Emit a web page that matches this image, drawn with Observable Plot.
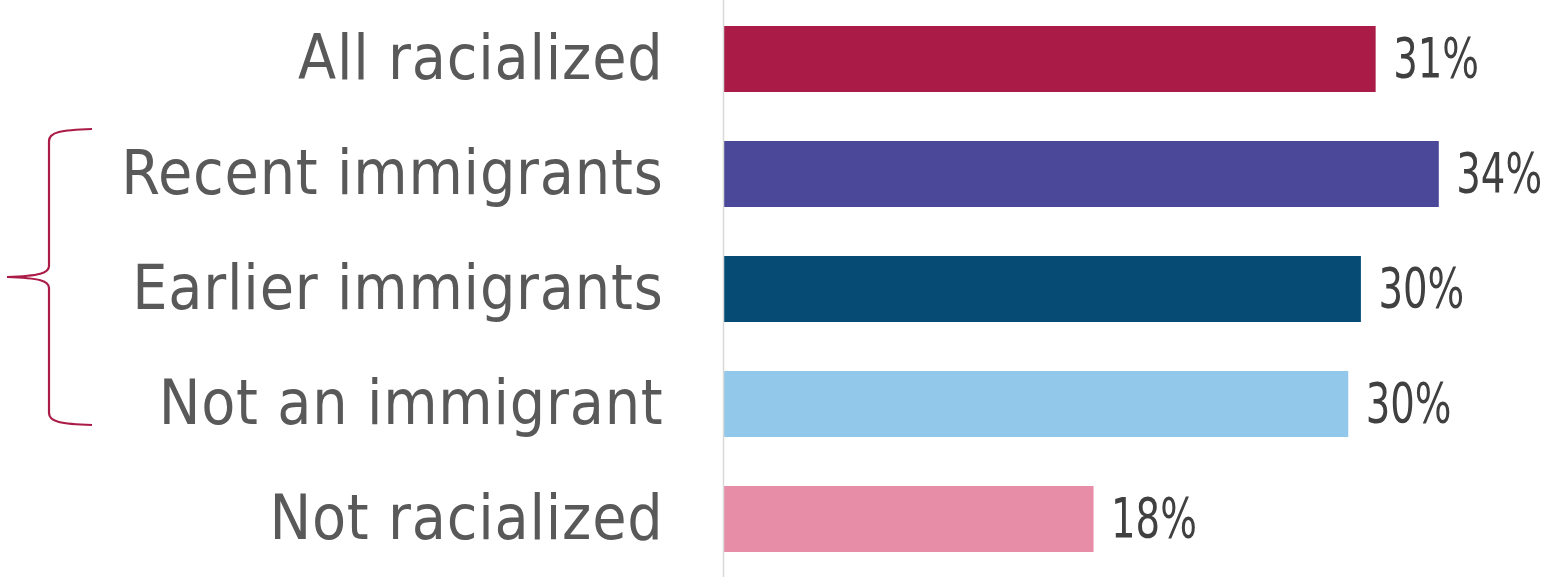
<!DOCTYPE html>
<html>
<head>
<meta charset="utf-8">
<script src="https://cdn.jsdelivr.net/npm/d3@7"></script>
<script src="https://cdn.jsdelivr.net/npm/@observablehq/plot@0.6"></script>
<style>
  html, body { margin: 0; padding: 0; background: #fff; }
  #chart svg { display: block; }
</style>
</head>
<body>
<div id="chart"></div>
<script>
const categories = ["All racialized", "Recent immigrants", "Earlier immigrants", "Not an immigrant", "Not racialized"];
const values = [31.0, 34.0, 30.3, 29.7, 17.6];
const colors = ["#AA1C47", "#4B4799", "#054B74", "#92C8E9", "#E78DA8"];
const bracketed = ["Recent immigrants", "Not an immigrant"];

const data = categories.map((c, i) => ({category: c, value: values[i]}));
const fontFamily = "DejaVu Sans Condensed, Liberation Sans Narrow, sans-serif";

const plot = Plot.plot({
  width: 1550,
  height: 577,
  marginLeft: 723,
  marginRight: 27,
  marginTop: 0,
  marginBottom: 0,
  x: {domain: [0, 38], axis: null},
  y: {domain: categories, paddingInner: 0.43, paddingOuter: 0.213, label: null},
  color: {domain: categories, range: colors},
  style: {background: "#fff"},
  marks: [
    Plot.barX(data, {x: "value", y: "category", fill: "category"}),
    Plot.ruleX([0], {stroke: "#d9d9d9", strokeWidth: 1.5}),
    Plot.text(data, {
      x: "value", y: "category",
      text: d => `${Math.round(d.value)}%`,
      dx: 17, textAnchor: "start",
      fill: "#404040", fontSize: 55,
      fontFamily,
      className: "value-label"
    }),
    Plot.axisY({
      tickSize: 0, tickPadding: 60, label: null,
      fontSize: 62, fill: "#595959",
      fontFamily
    })
  ]
});

d3.select(plot).selectAll("[aria-label='y-axis tick label'] text").style("letter-spacing", "0.8px");

// brace grouping the immigrant sub-categories
const ys = plot.scale("y");
const bw = ys.bandwidth;
const yTop = ys.apply(bracketed[0]) - 12;
const yBottom = ys.apply(bracketed[1]) + bw - 12;
const yMid = (yTop + yBottom) / 2;
const xv = 49, xa = 92, xt = 7;
const bracePath = `M${xa},${yTop} C${xv + 12},${yTop + 1} ${xv},${yTop + 3} ${xv},${yTop + 12}
  L${xv},${yMid - 11} C${xv},${yMid - 4} ${xv - 9},${yMid - 1} ${xt},${yMid}
  C${xv - 9},${yMid + 1} ${xv},${yMid + 4} ${xv},${yMid + 11}
  L${xv},${yBottom - 12} C${xv},${yBottom - 3} ${xv + 12},${yBottom - 1} ${xa},${yBottom}`;
d3.select(plot).append("path")
  .attr("d", bracePath)
  .attr("fill", "none")
  .attr("stroke", "#AA1C47")
  .attr("stroke-width", 2.2);

document.getElementById("chart").appendChild(plot);

// condense the value labels to match the narrow face of the original
d3.select(plot).selectAll(".value-label text").each(function() {
  const len = this.getComputedTextLength();
  this.setAttribute("textLength", (len * 0.78).toFixed(1));
  this.setAttribute("lengthAdjust", "spacingAndGlyphs");
});
</script>
</body>
</html>
